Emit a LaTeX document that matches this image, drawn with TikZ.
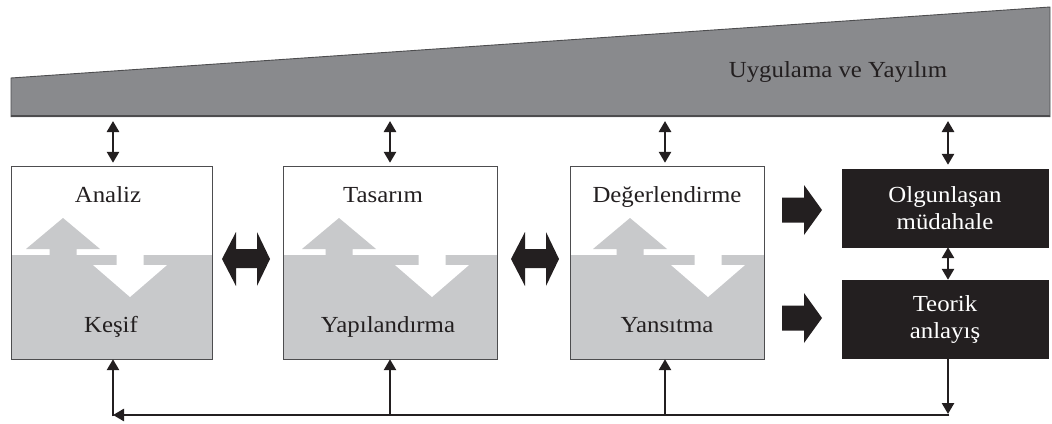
\documentclass[tikz,border=0pt]{standalone}
\usepackage{fontspec}
\setmainfont{Liberation Serif}[FakeStretch=1.08]
\usetikzlibrary{arrows.meta}

\definecolor{wedgegray}{HTML}{898A8D}
\definecolor{lowgray}{HTML}{C8C9CB}
\definecolor{ink}{HTML}{231F20}
\definecolor{frame}{HTML}{4D4D4F}

\tikzset{
  lbl/.style={font=\fontsize{23}{27}\selectfont, text=ink, inner sep=0pt, anchor=base},
  phase/.style={fill=white, minimum width=#1, minimum height=192pt, inner sep=0pt},
  phaseframe/.style={draw=frame, line width=1.3pt},
  dark/.style={fill=ink, draw=ink, minimum width=206pt, minimum height=78pt, inner sep=0pt,
    text=white, align=center, font=\fontsize{23}{27}\selectfont},
  tip/.style={Triangle[width=12pt,length=11pt]},
  link/.style={draw=ink, line width=2.6pt, -{Triangle[width=12pt,length=11pt]}},
  twoway/.style={draw=ink, line width=2.6pt, {Triangle[width=12pt,length=11pt]}-{Triangle[width=12pt,length=11pt]}},
  fat/.style={fill=ink},
}

% gray up-arrow rising into the white half, white down-arrow sinking into the gray half
\newcommand\splitarrows[2]{%
  \fill[lowgray] (#1-13.5,256) -- (#1-13.5,249) -- (#1-37,249) -- (#1,218)
    -- (#1+37,249) -- (#1+13.5,249) -- (#1+13.5,256) -- cycle;
  \fill[white] (#2-13.5,254) -- (#2-13.5,265) -- (#2-37,265) -- (#2,297)
    -- (#2+37,265) -- (#2+13.5,265) -- (#2+13.5,254) -- cycle;
}

\begin{document}
\begin{tikzpicture}[x=1pt, y=-1pt]
\useasboundingbox (0,0) rectangle (1052,423);

% rising band at the top
\fill[wedgegray] (11,78) -- (1050,7) -- (1050,117) -- (11,117) -- cycle;
\draw[frame, line width=0.9pt] (11,117) -- (11,78) -- (1050,7) -- (1050,117);
\draw[frame, line width=2pt] (11,116) -- (1050,116);
\node[lbl] (band) at (838,77) {Uygulama ve Yayılım};

% the three phase boxes
\node[phase=200pt] (b1) at (112,263) {};
\node[phase=213pt] (b2) at (390.5,263) {};
\node[phase=193pt] (b3) at (667.5,263) {};
\foreach \b in {b1,b2,b3}{
  \fill[lowgray] (\b.south west) rectangle (\b.east |- 0,255);
}
\splitarrows{63}{130}
\splitarrows{339}{432}
\splitarrows{630}{708}
\foreach \b in {b1,b2,b3}{
  \draw[phaseframe] (\b.south west) rectangle (\b.north east);
}

\node[lbl] (t1a) at (108,202) {Analiz};
\node[lbl] (t1b) at (111,332) {Keşif};
\node[lbl] (t2a) at (383,202) {Tasarım};
\node[lbl] (t2b) at (388,332) {Yapılandırma};
\node[lbl] (t3a) at (667,202) {Değerlendirme};
\node[lbl] (t3b) at (667,332) {Yansıtma};

% outcome boxes
\node[dark] (m) at (945,208) {Olgunlaşan\\müdahale};
\node[dark] (t) at (945,319) {Teorik\\anlayış};

% links from the band down to each box
\coordinate (w1) at (113,117);
\coordinate (w2) at (390,117);
\coordinate (w3) at (665,117);
\coordinate (w4) at (948,117);
\draw[twoway, shorten <=4pt, shorten >=4pt] (w1) -- (w1 |- b1.north);
\draw[twoway, shorten <=4pt, shorten >=4pt] (w2) -- (w2 |- b2.north);
\draw[twoway, shorten <=4pt, shorten >=4pt] (w3) -- (w3 |- b3.north);
\draw[twoway, shorten <=4pt, shorten >=4pt] (w4) -- (w4 |- m.north);

% broad double arrows between phases
\foreach \cx in {246,535}{
  \fill[fat] (\cx-24,259) -- (\cx-10,232) -- (\cx-10,249) -- (\cx+11,249) -- (\cx+11,232)
    -- (\cx+24,259) -- (\cx+11,286) -- (\cx+11,268) -- (\cx-10,268) -- (\cx-10,286) -- cycle;
}
% broad arrows into the outcome boxes
\foreach \cy in {210,318}{
  \fill[fat] (782,\cy-12.5) -- (804,\cy-12.5) -- (804,\cy-25) -- (822,\cy)
    -- (804,\cy+25) -- (804,\cy+12.5) -- (782,\cy+12.5) -- cycle;
}

% link between the outcome boxes
\draw[twoway] (m.south -| w4) -- (t.north -| w4);

% feedback loop along the bottom
\coordinate (fbR) at (948,415);
\coordinate (fbL) at (113,415);
\coordinate (fb2) at (390,415);
\coordinate (fb3) at (665,415);
\draw[link, shorten >=1pt] (t.south -| fbR) -- (fbR);
\draw[link, shorten <=-1.3pt] (fbR) -- (fbL);
\draw[link, shorten <=-1.3pt] (fbL) -- (fbL |- b1.south);
\draw[link] (fb2) -- (fb2 |- b2.south);
\draw[link] (fb3) -- (fb3 |- b3.south);
\end{tikzpicture}
\end{document}
